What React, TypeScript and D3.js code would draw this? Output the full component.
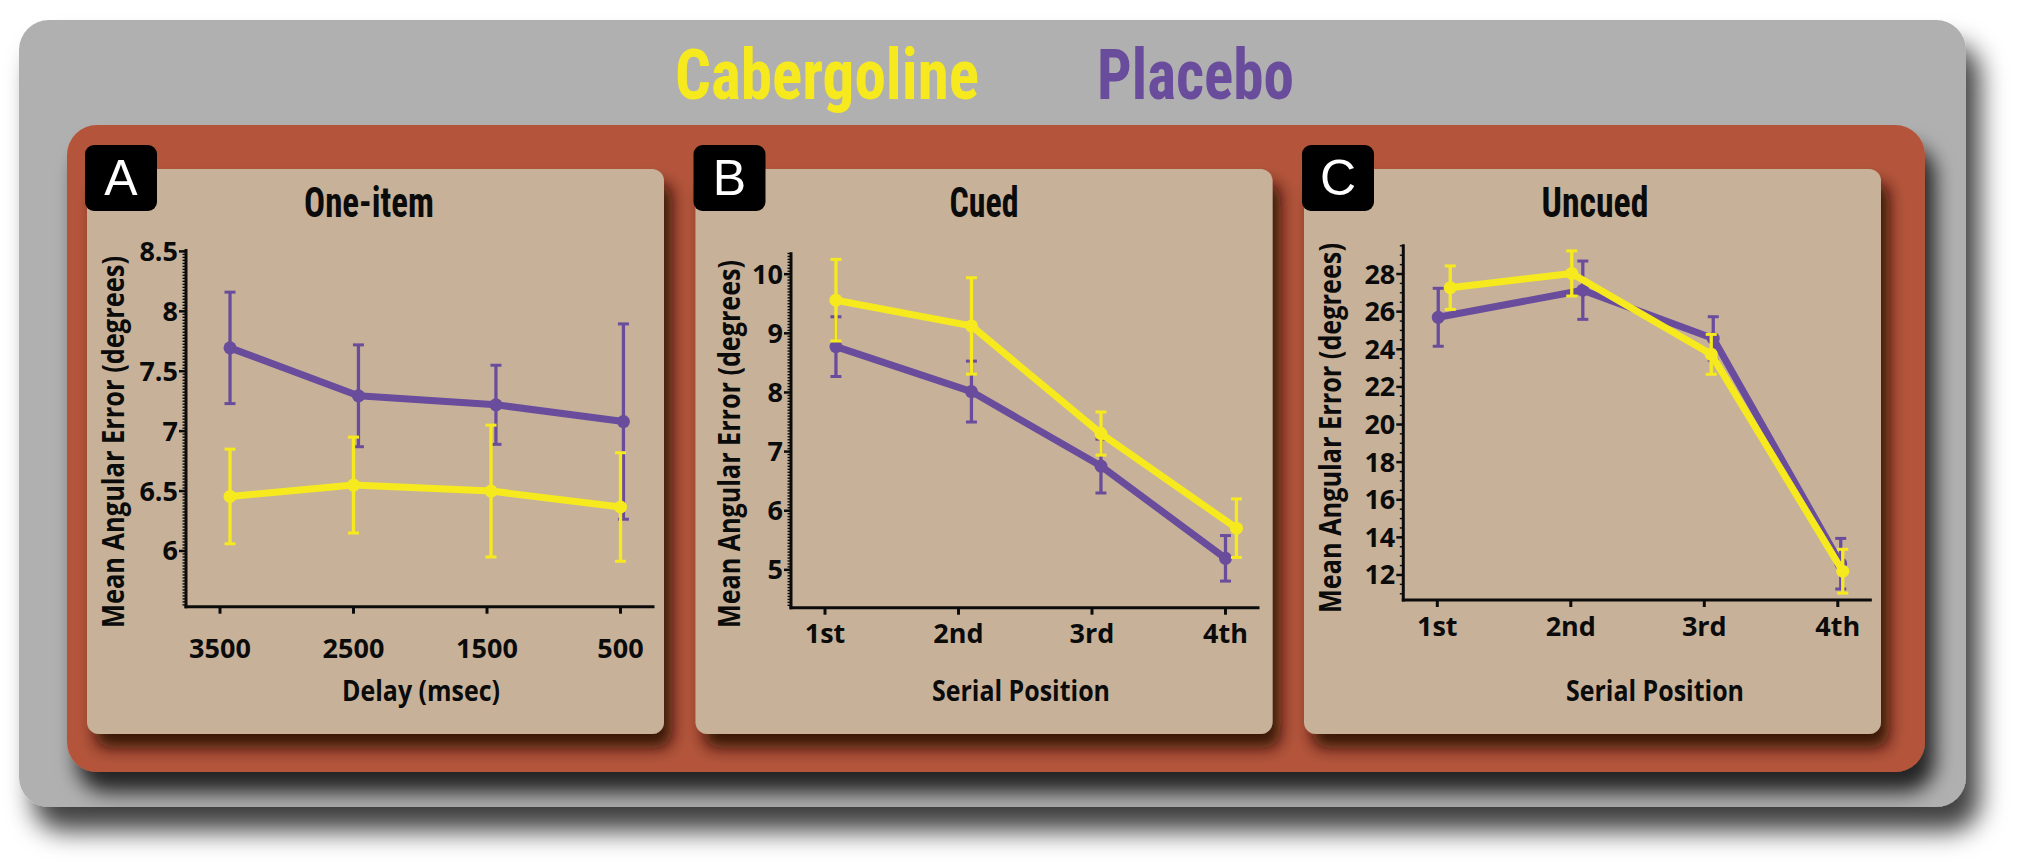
import React from "react";
import * as d3 from "d3";

// ---------- DATA ----------
const seriesNames = ["Cabergoline", "Placebo"];
const delayLabels = ["3500", "2500", "1500", "500"];
const serialLabels = ["1st", "2nd", "3rd", "4th"];

// One-item (A)
const oneCabMean = [6.455, 6.55, 6.5, 6.367];
const oneCabErr = [0.395, 0.4, 0.55, 0.453];
const onePlaMean = [7.695, 7.295, 7.22, 7.08];
const onePlaErr = [0.465, 0.425, 0.33, 0.815];
const oneCabDodge = [0.075, 0.0, 0.03, 0.0];
const onePlaDodge = [0.075, 0.037, 0.067, 0.022];
const oneYTicks = [6, 6.5, 7, 7.5, 8, 8.5];

// Cued (B)
const cuedCabMean = [9.56, 9.125, 7.305, 5.705];
const cuedCabErr = [0.69, 0.815, 0.365, 0.495];
const cuedPlaMean = [8.775, 8.015, 6.755, 5.195];
const cuedPlaErr = [0.505, 0.515, 0.455, 0.385];
const cuedCabDodge = [0.082, 0.097, 0.067, 0.082];
const cuedPlaDodge = [0.082, 0.097, 0.067, 0.0];
const cuedYTicks = [5, 6, 7, 8, 9, 10];

// Uncued (C)
const uncCabMean = [27.275, 28.03, 23.73, 12.2];
const uncCabErr = [1.155, 1.2, 1.06, 1.165];
const uncPlaMean = [25.7, 27.14, 24.575, 12.6];
const uncPlaErr = [1.54, 1.55, 1.155, 1.345];
const uncCabDodge = [0.097, 0.007, 0.052, 0.037];
const uncPlaDodge = [0.007, 0.09, 0.067, 0.022];
const uncYTicks = [12, 14, 16, 18, 20, 22, 24, 26, 28];

// ---------- STYLE / LAYOUT ----------
const W = 2029;
const H = 866;
const YELLOW = "#f6ea1f";
const PURPLE = "#6a4c9c";
const GRAY = "#b0b0b0";
const ORANGE = "#b4553a";
const TAN = "#c7b299";
const INK = "#0b0b0b";
const CONDENSED = "'Liberation Sans Narrow', 'Roboto Condensed', 'DejaVu Sans Condensed', sans-serif";
const SANS = "'Open Sans', 'Noto Sans', sans-serif";
const LETTER = "'Liberation Sans', Arial, sans-serif";

type PanelDef = {
  letter: string;
  title: string;
  titleW: number;
  xTitle: string;
  xTitleW: number;
  cats: string[];
  cabMean: number[];
  cabErr: number[];
  plaMean: number[];
  plaErr: number[];
  cabDodge: number[];
  plaDodge: number[];
  yTicks: number[];
  yDomain: [number, number];
  minorStep: number;
  panelX: number;
  axisX: number;
  yTop: number;
  yBottom: number;
  titleCX: number;
  xLabelY: number;
  xTitleCX: number;
  yTitleX: number;
  yTitleCY: number;
  yTitleLen: number;
};

const panels: PanelDef[] = [
  {
    letter: "A", title: "One-item", titleW: 130, xTitle: "Delay (msec)", xTitleW: 158,
    cats: delayLabels, cabMean: oneCabMean, cabErr: oneCabErr, plaMean: onePlaMean, plaErr: onePlaErr,
    cabDodge: oneCabDodge, plaDodge: onePlaDodge, yTicks: oneYTicks, yDomain: [5.535, 8.52], minorStep: 0.025,
    panelX: 87, axisX: 186, yTop: 249, yBottom: 606.7, titleCX: 369, xLabelY: 658, xTitleCX: 421,
    yTitleX: 124, yTitleCY: 442, yTitleLen: 372,
  },
  {
    letter: "B", title: "Cued", titleW: 69, xTitle: "Serial Position", xTitleW: 178,
    cats: serialLabels, cabMean: cuedCabMean, cabErr: cuedCabErr, plaMean: cuedPlaMean, plaErr: cuedPlaErr,
    cabDodge: cuedCabDodge, plaDodge: cuedPlaDodge, yTicks: cuedYTicks, yDomain: [4.36, 10.37], minorStep: 0.05,
    panelX: 695.5, axisX: 791, yTop: 252.3, yBottom: 607.7, titleCX: 984, xLabelY: 643, xTitleCX: 1021,
    yTitleX: 740, yTitleCY: 444, yTitleLen: 368,
  },
  {
    letter: "C", title: "Uncued", titleW: 107, xTitle: "Serial Position", xTitleW: 178,
    cats: serialLabels, cabMean: uncCabMean, cabErr: uncCabErr, plaMean: uncPlaMean, plaErr: uncPlaErr,
    cabDodge: uncCabDodge, plaDodge: uncPlaDodge, yTicks: uncYTicks, yDomain: [10.67, 29.58], minorStep: 0.5,
    panelX: 1304, axisX: 1403.3, yTop: 244.3, yBottom: 600, titleCX: 1595, xLabelY: 636, xTitleCX: 1655,
    yTitleX: 1341, yTitleCY: 428, yTitleLen: 370,
  },
];

const PANEL_W = 577;
const PANEL_TOP = 169;
const PANEL_BOTTOM = 734;
const FIRST_OFF = 34;
const STEP = 133.5;

function Series({ mean, err, dodge, color, x, y }: {
  mean: number[]; err: number[]; dodge: number[]; color: string;
  x: d3.ScaleLinear<number, number>; y: d3.ScaleLinear<number, number>;
}) {
  const pts = mean.map((m, i) => ({ i, m, e: err[i], xv: i + dodge[i] }));
  const line = d3.line<typeof pts[number]>().x((d) => x(d.xv)).y((d) => y(d.m));
  const cap = 5.5;
  return (
    <g>
      <path d={line(pts) || ""} fill="none" stroke={color} strokeWidth={7} strokeLinejoin="round" />
      {pts.map((d) => {
        const cx = x(d.xv);
        const y1 = y(d.m + d.e);
        const y2 = y(d.m - d.e);
        return (
          <g key={d.i}>
            <line x1={cx} x2={cx} y1={y1} y2={y2} stroke={color} strokeWidth={3.3} />
            <line x1={cx - cap} x2={cx + cap} y1={y1} y2={y1} stroke={color} strokeWidth={3} />
            <line x1={cx - cap} x2={cx + cap} y1={y2} y2={y2} stroke={color} strokeWidth={3} />
            <circle cx={cx} cy={y(d.m)} r={6.5} fill={color} />
          </g>
        );
      })}
    </g>
  );
}

function Panel({ p }: { p: PanelDef }) {
  const y = d3.scaleLinear().domain(p.yDomain).range([p.yBottom, p.yTop]);
  const x = d3.scaleLinear().domain([0, 3]).range([p.axisX + FIRST_OFF, p.axisX + FIRST_OFF + 3 * STEP]);
  const xEnd = x(3) + FIRST_OFF;
  const minors: number[] = [];
  const i0 = Math.ceil(p.yDomain[0] / p.minorStep - 1e-6);
  const i1 = Math.floor(p.yDomain[1] / p.minorStep + 1e-6);
  for (let i = i0; i <= i1; i++) minors.push(i * p.minorStep);
  return (
    <g>
      <rect x={p.panelX} y={PANEL_TOP} width={PANEL_W} height={PANEL_BOTTOM - PANEL_TOP} rx={12} fill={TAN} filter="url(#shPanel)" />
      <rect x={p.panelX - 2} y={145} width={72} height={66} rx={9} fill="#000" />
      <text x={p.panelX + 34} y={195} textAnchor="middle" fontFamily={LETTER} fontSize={50} fill="#fff">{p.letter}</text>
      <text x={p.titleCX} y={217} textAnchor="middle" fontFamily={CONDENSED} fontWeight={700} fontSize={42}
        fill={INK} textLength={p.titleW} lengthAdjust="spacingAndGlyphs" style={{ fontStretch: "condensed" }}>{p.title}</text>

      {minors.map((v, k) => (
        <line key={"m" + k} x1={p.axisX - 3.5} x2={p.axisX} y1={y(v)} y2={y(v)} stroke={INK} strokeWidth={1.4} />
      ))}
      {p.yTicks.map((v) => (
        <g key={"t" + v}>
          <line x1={p.axisX - 7} x2={p.axisX} y1={y(v)} y2={y(v)} stroke={INK} strokeWidth={2.5} />
          <text x={p.axisX - 8} y={y(v) + 9.5} textAnchor="end" fontFamily={SANS} fontWeight={700} fontSize={27} fill={INK}>{String(v)}</text>
        </g>
      ))}
      <line x1={p.axisX} x2={p.axisX} y1={p.yTop} y2={p.yBottom + 1.5} stroke={INK} strokeWidth={3} />
      <line x1={p.axisX - 1.5} x2={xEnd} y1={p.yBottom} y2={p.yBottom} stroke={INK} strokeWidth={3} />
      {p.cats.map((c, i) => (
        <g key={"x" + c}>
          <line x1={x(i)} x2={x(i)} y1={p.yBottom} y2={p.yBottom + 7} stroke={INK} strokeWidth={3} />
          <text x={x(i)} y={p.xLabelY} textAnchor="middle" fontFamily={SANS} fontWeight={700} fontSize={27} fill={INK}>{c}</text>
        </g>
      ))}
      <text x={p.xTitleCX} y={701} textAnchor="middle" fontFamily={SANS} fontWeight={700} fontSize={29} fill={INK}
        textLength={p.xTitleW} lengthAdjust="spacingAndGlyphs">{p.xTitle}</text>
      <text transform={`translate(${p.yTitleX},${p.yTitleCY}) rotate(-90)`} textAnchor="middle" fontFamily={SANS}
        fontWeight={700} fontSize={30} fill={INK} textLength={p.yTitleLen} lengthAdjust="spacingAndGlyphs">
        Mean Angular Error (degrees)
      </text>

      <Series mean={p.plaMean} err={p.plaErr} dodge={p.plaDodge} color={PURPLE} x={x} y={y} />
      <Series mean={p.cabMean} err={p.cabErr} dodge={p.cabDodge} color={YELLOW} x={x} y={y} />
    </g>
  );
}

export default function App() {
  return (
    <svg width={W} height={H} style={{ position: "absolute", left: 0, top: 0, display: "block" }}>
      <defs>
        <filter id="shGray" x="-5%" y="-5%" width="115%" height="130%">
          <feDropShadow dx={14} dy={24} stdDeviation={13} floodColor="#000" floodOpacity={0.75} />
        </filter>
        <filter id="shOrange" x="-5%" y="-5%" width="115%" height="130%">
          <feDropShadow dx={10} dy={20} stdDeviation={10} floodColor="#000" floodOpacity={0.8} />
        </filter>
        <filter id="shPanel" x="-10%" y="-10%" width="130%" height="130%">
          <feDropShadow dx={8} dy={14} stdDeviation={8} floodColor="#2a0c02" floodOpacity={0.9} />
        </filter>
      </defs>
      <rect x={0} y={0} width={W} height={H} fill="#fff" />
      <rect x={19} y={20} width={1947} height={787} rx={30} fill={GRAY} filter="url(#shGray)" />
      <text x={675} y={99} fontFamily={CONDENSED} fontWeight={700} fontSize={70} fill={YELLOW}
        textLength={304} lengthAdjust="spacingAndGlyphs" style={{ fontStretch: "condensed" }}>{seriesNames[0]}</text>
      <text x={1097} y={99} fontFamily={CONDENSED} fontWeight={700} fontSize={70} fill={PURPLE}
        textLength={197} lengthAdjust="spacingAndGlyphs" style={{ fontStretch: "condensed" }}>{seriesNames[1]}</text>
      <rect x={67} y={125} width={1858} height={647} rx={30} fill={ORANGE} filter="url(#shOrange)" />
      {panels.map((p) => (
        <Panel key={p.letter} p={p} />
      ))}
    </svg>
  );
}
